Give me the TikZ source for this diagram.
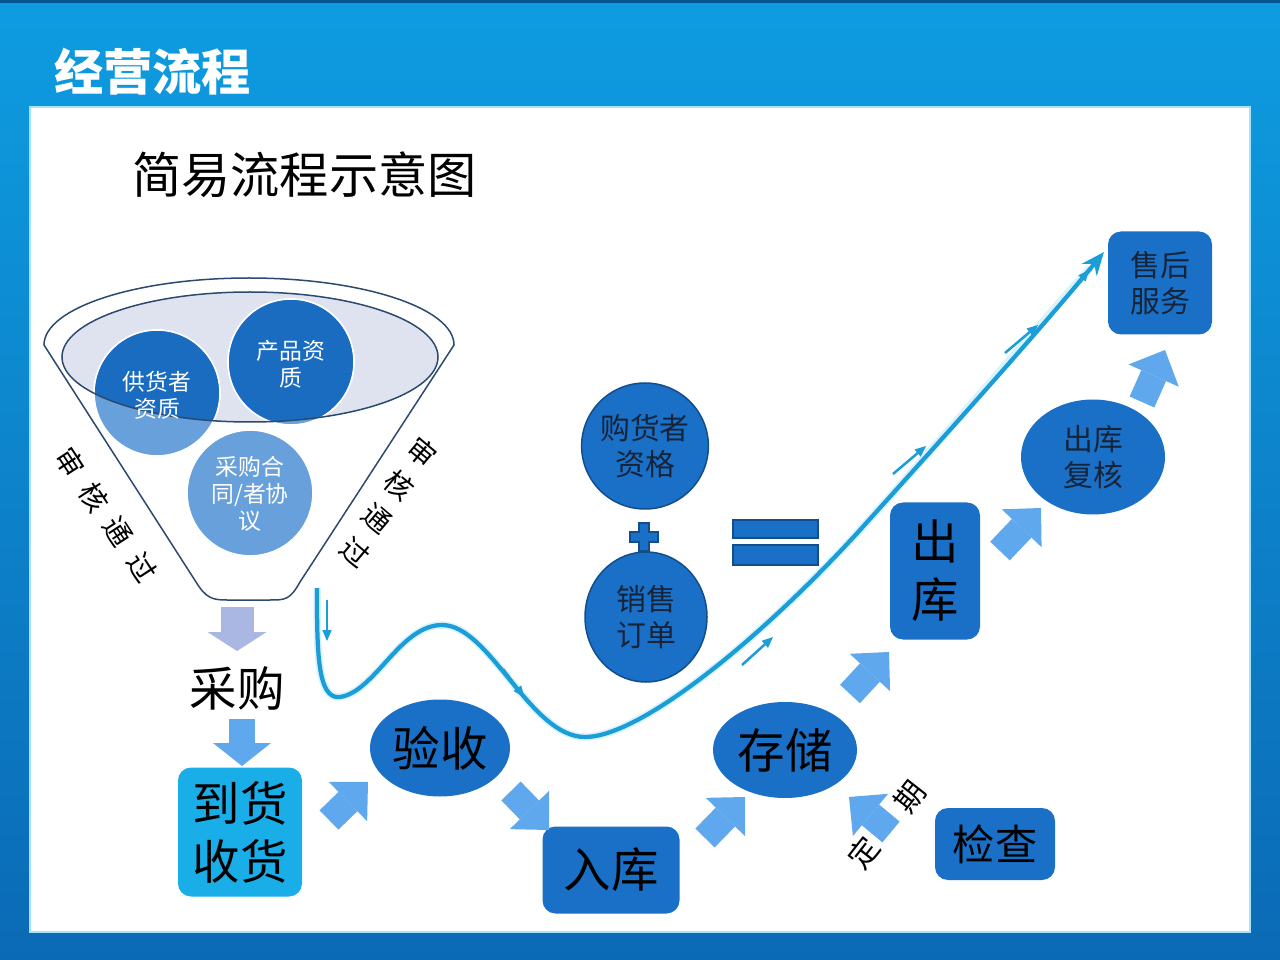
\documentclass[tikz,border=0pt]{standalone}
\usepackage{fontspec}
\setmainfont{Noto Sans CJK SC}
\usetikzlibrary{arrows.meta,shapes.geometric,positioning}

\definecolor{frameblue}{HTML}{0B6AB6}
\definecolor{bandblue}{HTML}{0E9CE0}
\definecolor{boxblue}{HTML}{1A6FC6}
\definecolor{cyanbox}{HTML}{1AAEE9}
\definecolor{arrowblue}{HTML}{5FA8EE}
\definecolor{lavarrow}{HTML}{A9B7E2}
\definecolor{wavecyan}{HTML}{1B9DD8}
\definecolor{circdark}{HTML}{1A6CC0}
\definecolor{circlight}{HTML}{67A0DA}
\definecolor{funnelfill}{HTML}{DFE3F0}
\definecolor{funnelline}{HTML}{2B4A6E}
\definecolor{inkdark}{HTML}{16243A}

\begin{document}
\begin{tikzpicture}[x=0.2mm,y=-0.2mm,>=Stealth]
  % one unit = one pixel of the slide
  \def\px{0.2mm}
  \tikzset{
    biglabel/.style  = {font=\fontsize{27pt}{33pt}\selectfont, text=black, align=center},
    midlabel/.style  = {font=\fontsize{17pt}{20.5pt}\selectfont, text=inkdark, align=center},
    funneltxt/.style = {font=\fontsize{13pt}{15.5pt}\selectfont, text=white, align=center},
    sidetxt/.style   = {font=\fontsize{16pt}{16pt}\selectfont, text=black, inner sep=0pt},
    roundbox/.style  = {fill=boxblue, rounded corners=2.6mm, inner sep=0pt},
    ovalnode/.style  = {ellipse, fill=boxblue, inner sep=0pt},
    ringnode/.style  = {ellipse, fill=boxblue, draw=boxblue!70!black, line width=0.3mm, inner sep=0pt},
    bigarrow/.style  = {arrowblue, line width=27*\px, -{Triangle[length=28*\px, width=55*\px, line width=0pt]}},
    flowtick/.style  = {wavecyan, line width=0.5mm, -{Triangle[length=2.2mm, width=1.9mm, line width=0pt]}},
    funnelring/.style= {draw=white, line width=0.35mm}
  }
  \useasboundingbox (0,0) rectangle (1280,960);

  % --- Slide background ---
  \shade[top color=bandblue, bottom color=frameblue] (0,0) rectangle (1280,960);
  \fill[frameblue!80!black] (0,0) rectangle (1280,3);
  \fill[white, draw=cyan!35, line width=0.5mm] (30,107) rectangle (1250,932);
  \node[anchor=west, text=white, font=\fontsize{28pt}{28pt}\selectfont\bfseries] (title) at (48,72) {经营流程};
  \node[anchor=west, font=\fontsize{28pt}{28pt}\selectfont] (subtitle) at (126,175) {简易流程示意图};

  % --- Funnel ---
  \draw[funnelline, fill=white, line width=0.3mm] (44,345) arc[start angle=180, end angle=360, x radius=205, y radius=67]
    -- (300,582) .. controls (290,600) and (285,600) .. (270,600) -- (227,600)
    .. controls (212,600) and (206,598) .. (196,582) -- cycle;
  \fill[funnelfill] (250,357) ellipse[x radius=188, y radius=65];
  \fill[circlight, funnelring] (157,393) circle[radius=63];
  \fill[circlight, funnelring] (291,362) circle[radius=63];
  \fill[circlight, funnelring] (250,493) circle[radius=63];
  \begin{scope}
    \clip (250,357) ellipse[x radius=188, y radius=65];
    \fill[circdark] (157,393) circle[radius=62];
    \fill[circdark] (291,362) circle[radius=62];
  \end{scope}
  \draw[funnelline, line width=0.3mm] (250,357) ellipse[x radius=188, y radius=65];
  \node[funneltxt] (gonghuo) at (157,395) {供货者\\资质};
  \node[funneltxt] (chanpin) at (291,364) {产品资\\质};
  \node[funneltxt] (hetong)  at (250,494) {采购合\\同/者协\\议};

  % side texts along the funnel
  \foreach \ch/\x/\y [count=\i] in {审/70/462, 核/94/497, 通/118/532, 过/142/567}
    \node[sidetxt, rotate=-57] (left\i) at (\x,\y) {\ch};
  \foreach \ch/\x/\y [count=\i] in {审/422/452, 核/399/485, 通/377/519, 过/355/552}
    \node[sidetxt, rotate=-40] (right\i) at (\x,\y) {\ch};

  % --- Flow nodes ---
  \node[biglabel] (caigou) at (237,688) {采购};
  \node[roundbox, fill=cyanbox, minimum width=124*\px, minimum height=129*\px, biglabel] (daohuo) at (240,832) {到货\\收货};
  \node[ovalnode, minimum width=140*\px, minimum height=97*\px, biglabel] (yanshou) at (440,748) {验收};
  \node[roundbox, minimum width=137*\px, minimum height=87*\px, biglabel] (ruku) at (611,870) {入库};
  \node[ovalnode, minimum width=144*\px, minimum height=96*\px, biglabel] (cunchu) at (785,750) {存储};
  \node[roundbox, minimum width=90*\px, minimum height=137*\px, biglabel] (chuku) at (935,571) {出\\库};
  \node[ovalnode, minimum width=144*\px, minimum height=115*\px, midlabel] (fuhe) at (1093,457) {出库\\复核};
  \node[roundbox, minimum width=104*\px, minimum height=103*\px, midlabel] (shouhou) at (1160,283) {售后\\服务};
  \node[roundbox, minimum width=120*\px, minimum height=72*\px, biglabel, font=\fontsize{24pt}{24pt}\selectfont] (jiancha) at (995,844) {检查};
  \node[ringnode, minimum width=124*\px, minimum height=126*\px, midlabel] (gouhuo) at (645,446) {购货者\\资格};
  \node[ringnode, minimum width=122*\px, minimum height=130*\px, midlabel] (xiaoshou) at (646,617) {销售\\订单};

  % plus and equals
  \filldraw[fill=boxblue, draw=boxblue!70!black, line width=0.3mm]
    (639,523) -- (649,523) -- (649,532) -- (658,532) -- (658,542) -- (649,542) -- (649,551)
    -- (639,551) -- (639,542) -- (630,542) -- (630,532) -- (639,532) -- cycle;
  \filldraw[fill=boxblue, draw=boxblue!70!black, line width=0.3mm] (733,520) rectangle (818,538);
  \filldraw[fill=boxblue, draw=boxblue!70!black, line width=0.3mm] (733,545) rectangle (818,565);

  \node[sidetxt, font=\fontsize{17pt}{17pt}\selectfont, rotate=52] (ding) at (864,853) {定};
  \node[sidetxt, font=\fontsize{17pt}{17pt}\selectfont, rotate=52] (qi) at (910,797) {期};

  % --- Block arrows between the steps ---
  \coordinate (a0) at (237,607);  \coordinate (a1) at (237,651);
  \coordinate (b0) at (242,719);  \coordinate (b1) at (242,766);
  \coordinate (c0) at (329,820);  \coordinate (c1) at (368,782);
  \coordinate (d0) at (511,791);  \coordinate (d1) at (549,830);
  \coordinate (e0) at (705,838);  \coordinate (e1) at (745,797);
  \coordinate (f0) at (850,694);  \coordinate (f1) at (889,652);
  \coordinate (g0) at (1000,551); \coordinate (g1) at (1041,508);
  \coordinate (h0) at (1142,402); \coordinate (h1) at (1165,350);
  \coordinate (i0) at (891,832);  \coordinate (i1) at (849,797);
  \draw[lavarrow, line width=33*\px, -{Triangle[length=19*\px, width=59*\px, line width=0pt]}] (a0) -- (a1);
  \draw[bigarrow, line width=26*\px, -{Triangle[length=23*\px, width=58*\px, line width=0pt]}] (b0) -- (b1);
  \foreach \n in {c,d,e,f,g,h,i}
    \draw[bigarrow] (\n0) -- (\n1);

  % --- Wave line ---
  \coordinate (wavestart) at (317,588);
  \coordinate (waveend) at (1104,252);
  \draw[cyan!15, line width=1.5mm] (wavestart) .. controls (317,650) and (317,700) .. (340,697)
    .. controls (375,692) and (400,625) .. (442,625) .. controls (490,625) and (530,737) .. (585,737)
    .. controls (640,737) and (760,640) .. (860,530) .. controls (950,430) and (1030,335) .. (1090,268);
  \draw[wavecyan, line width=0.85mm, -{Stealth[length=4.6mm, width=3.8mm]}] (wavestart)
    .. controls (317,650) and (317,700) .. (340,697)
    .. controls (375,692) and (400,625) .. (442,625) .. controls (490,625) and (530,737) .. (585,737)
    .. controls (640,737) and (760,640) .. (860,530) .. controls (950,430) and (1040,330) .. (waveend);

  % small flow marks along the wave
  \coordinate (t1a) at (327,600);  \coordinate (t1b) at (327,641);
  \coordinate (t2a) at (503,669);  \coordinate (t2b) at (524,697);
  \coordinate (t3a) at (742,665);  \coordinate (t3b) at (773,637);
  \coordinate (t4a) at (893,474);  \coordinate (t4b) at (926,446);
  \coordinate (t5a) at (1005,353); \coordinate (t5b) at (1038,325);
  \coordinate (t6a) at (1064,300); \coordinate (t6b) at (1089,270);
  \foreach \n in {1,...,6}
    \draw[flowtick] (t\n a) -- (t\n b);
\end{tikzpicture}
\end{document}
